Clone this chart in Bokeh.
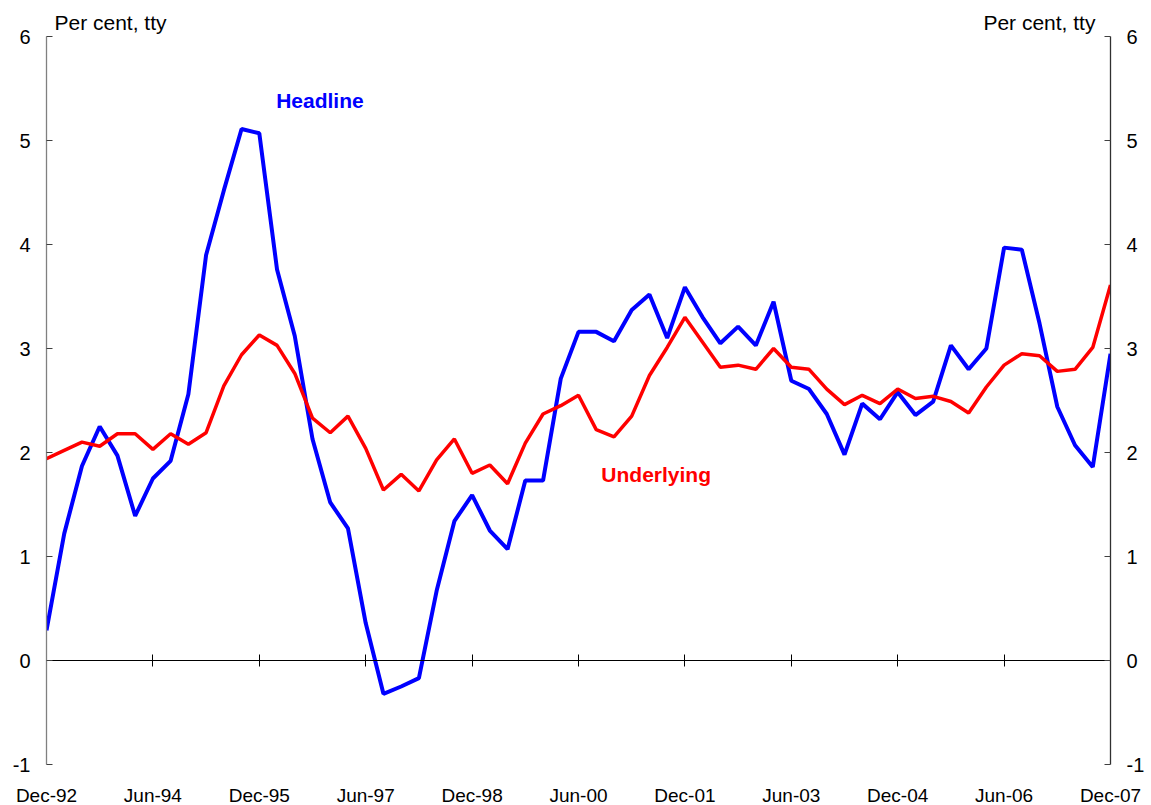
from bokeh.plotting import figure
from bokeh.models import Range1d, LinearAxis, FixedTicker, Label
from bokeh.embed import file_html
from bokeh.resources import INLINE

# Quarterly, Dec-92 .. Dec-07 (per cent, through the year)
headline = [0.29, 1.22, 1.87, 2.25, 1.97, 1.39, 1.75, 1.92, 2.56, 3.90,
            4.52, 5.11, 5.07, 3.76, 3.12, 2.13, 1.52, 1.27, 0.36, -0.32,
            -0.25, -0.17, 0.67, 1.34, 1.59, 1.25, 1.07, 1.73, 1.73, 2.71,
            3.16, 3.16, 3.07, 3.37, 3.52, 3.10, 3.59, 3.30, 3.05, 3.21,
            3.03, 3.45, 2.69, 2.61, 2.37, 1.98, 2.47, 2.32, 2.58, 2.36,
            2.49, 3.03, 2.80, 3.00, 3.97, 3.95, 3.24, 2.44, 2.07, 1.86,
            2.95]
underlying = [1.94, 2.02, 2.10, 2.06, 2.18, 2.18, 2.03, 2.18, 2.08, 2.19,
              2.64, 2.94, 3.13, 3.03, 2.76, 2.33, 2.19, 2.35, 2.04, 1.64,
              1.79, 1.63, 1.93, 2.13, 1.80, 1.88, 1.70, 2.09, 2.37, 2.45,
              2.55, 2.22, 2.15, 2.35, 2.74, 3.01, 3.30, 3.06, 2.82, 2.84,
              2.80, 3.00, 2.82, 2.80, 2.61, 2.46, 2.55, 2.47, 2.61, 2.52,
              2.54, 2.49, 2.38, 2.63, 2.84, 2.95, 2.93, 2.78, 2.80, 3.01,
              3.61]
tick_labels = ["Dec-92", "Jun-94", "Dec-95", "Jun-97", "Dec-98", "Jun-00",
               "Dec-01", "Jun-03", "Dec-04", "Jun-06", "Dec-07"]
y_ticks = [-1, 0, 1, 2, 3, 4, 5, 6]

quarter = list(range(len(headline)))
step = (len(quarter) - 1) // (len(tick_labels) - 1)
tick_pos = [i * step for i in range(len(tick_labels))]

FONT = "Liberation Sans"
YMIN, YMAX = min(y_ticks), max(y_ticks)
HEADROOM = 0.327  # room above the top tick for the unit labels

p = figure(frame_width=1064, frame_height=762,
           x_range=Range1d(0, quarter[-1]), y_range=Range1d(YMIN, YMAX + HEADROOM),
           output_backend="svg", toolbar_location=None,
           x_axis_location=None, y_axis_location=None,
           min_border_left=46, min_border_right=40, min_border_top=2, min_border_bottom=40,
           outline_line_color=None, background_fill_color="white",
           border_fill_color="white")
p.xgrid.grid_line_color = None
p.ygrid.grid_line_color = None

def yaxis(line_color):
    return LinearAxis(ticker=FixedTicker(ticks=y_ticks), bounds=(YMIN, YMAX),
                      major_label_overrides={t: str(t) for t in y_ticks},
                      axis_line_color=line_color, axis_line_width=1.3,
                      major_tick_in=6, major_tick_out=0,
                      major_tick_line_color="#404040",
                      minor_tick_line_color=None,
                      major_label_standoff=16,
                      major_label_text_font=FONT,
                      major_label_text_font_size="20px",
                      major_label_text_color="black")

p.add_layout(yaxis("#808080"), "left")
p.add_layout(yaxis("#303030"), "right")

# zero line with crossing ticks
x0 = LinearAxis(ticker=FixedTicker(ticks=tick_pos), fixed_location=0,
                axis_line_color="black", axis_line_width=1,
                major_tick_in=6, major_tick_out=6,
                major_tick_line_color="black",
                minor_tick_line_color=None,
                major_label_text_alpha=0, major_label_text_font_size="1px")
p.add_layout(x0, "below")

# date labels at the bottom
xb = LinearAxis(ticker=FixedTicker(ticks=tick_pos),
                major_label_overrides={pos: lab for pos, lab in zip(tick_pos, tick_labels)},
                axis_line_color=None, major_tick_line_color=None,
                minor_tick_line_color=None, major_label_standoff=14,
                major_label_text_font=FONT, major_label_text_font_size="19px",
                major_label_text_color="black")
p.add_layout(xb, "below")

p.line(quarter, headline, line_color="#0000FF", line_width=4)
p.line(quarter, underlying, line_color="#FF0000", line_width=3.5)

p.add_layout(Label(x=15.42, y=5.385, text="Headline", text_font=FONT,
                   text_font_style="bold", text_font_size="21px",
                   text_color="#0000FF", text_align="center", text_baseline="middle"))
p.add_layout(Label(x=34.38, y=1.79, text="Underlying", text_font=FONT,
                   text_font_style="bold", text_font_size="21px",
                   text_color="#FF0000", text_align="center", text_baseline="middle"))

p.add_layout(Label(x=0.45, y=6.13, text="Per cent, tty", text_font=FONT,
                   text_font_size="21px", text_color="black",
                   text_align="left", text_baseline="middle"))
p.add_layout(Label(x=59.15, y=6.13, text="Per cent, tty", text_font=FONT,
                   text_font_size="21px", text_color="black",
                   text_align="right", text_baseline="middle"))

open("out.html", "w").write(file_html(p, INLINE))
